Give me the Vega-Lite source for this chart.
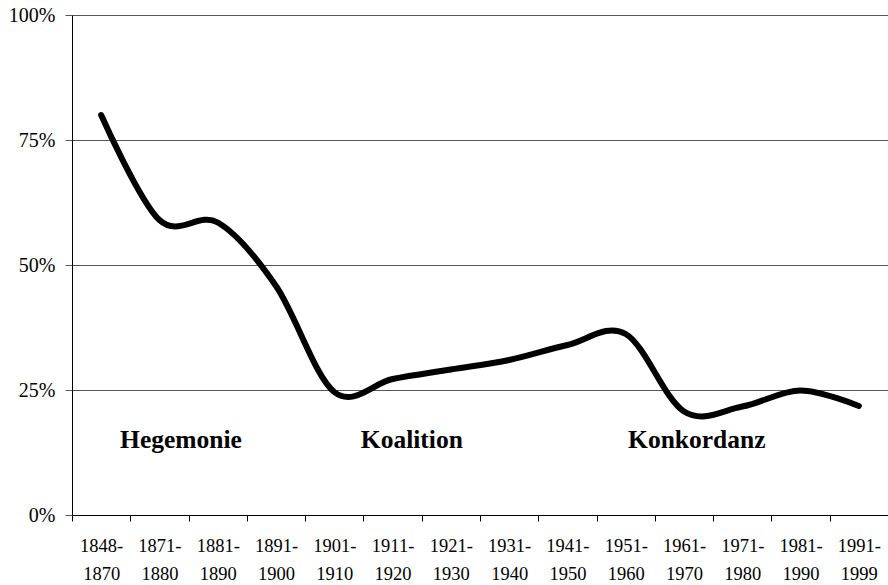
{
  "$schema": "https://vega.github.io/schema/vega-lite/v6.json",
  "width": 816,
  "height": 500,
  "autosize": {"type": "none"},
  "padding": {"left": 72, "top": 15, "right": 0, "bottom": 70},
  "background": "white",
  "config": {
    "font": "'Liberation Serif', 'Times New Roman', serif",
    "view": {"stroke": null}
  },
  "datasets": {
    "series": [
      {"period": "1848-1870", "share": 0.80},
      {"period": "1871-1880", "share": 0.59},
      {"period": "1881-1890", "share": 0.585},
      {"period": "1891-1900", "share": 0.458},
      {"period": "1901-1910", "share": 0.246},
      {"period": "1911-1920", "share": 0.272},
      {"period": "1921-1930", "share": 0.291},
      {"period": "1931-1940", "share": 0.31},
      {"period": "1941-1950", "share": 0.34},
      {"period": "1951-1960", "share": 0.362},
      {"period": "1961-1970", "share": 0.207},
      {"period": "1971-1980", "share": 0.217},
      {"period": "1981-1990", "share": 0.249},
      {"period": "1991-1999", "share": 0.218}
    ],
    "phases": [
      {"phase": "Hegemonie", "pos": 1.87, "level": 0.15},
      {"phase": "Koalition", "pos": 5.83, "level": 0.15},
      {"phase": "Konkordanz", "pos": 10.72, "level": 0.15}
    ]
  },
  "resolve": {"scale": {"x": "independent"}},
  "layer": [
    {
      "data": {"name": "series"},
      "mark": {"type": "line", "interpolate": "cardinal", "color": "black", "strokeWidth": 6, "strokeCap": "round", "strokeJoin": "round"},
      "encoding": {
        "x": {
          "field": "period", "type": "ordinal",
          "scale": {"type": "band", "paddingInner": 0, "paddingOuter": 0},
          "axis": {
            "title": null,
            "labelAngle": 0,
            "labelFont": "'Liberation Serif', 'Times New Roman', serif",
            "labelFontSize": 18.5,
            "labelColor": "black",
            "labelExpr": "[slice(datum.label, 0, 5), slice(datum.label, 5)]",
            "labelLineHeight": 28,
            "labelPadding": 15,
            "tickBand": "extent",
            "tickSize": 6,
            "tickColor": "black",
            "domainColor": "black",
            "domainWidth": 1,
            "grid": false
          }
        },
        "y": {
          "field": "share", "type": "quantitative",
          "scale": {"domain": [0, 1], "nice": false, "zero": true},
          "axis": {
            "title": null,
            "values": [0, 0.25, 0.5, 0.75, 1],
            "format": ".0%",
            "labelFont": "'Liberation Serif', 'Times New Roman', serif",
            "labelFontSize": 20,
            "labelColor": "black",
            "labelPadding": 10,
            "tickSize": 7,
            "tickColor": "#555",
            "domainColor": "black",
            "grid": true,
            "gridColor": "#555",
            "gridWidth": 1
          }
        }
      }
    },
    {
      "data": {"name": "phases"},
      "mark": {"type": "text", "font": "'Liberation Serif', 'Times New Roman', serif", "fontWeight": "bold", "fontSize": 25.5, "align": "center", "baseline": "middle", "color": "black"},
      "encoding": {
        "x": {"field": "pos", "type": "quantitative", "scale": {"domain": [0, 14], "nice": false, "zero": true}, "axis": null},
        "y": {"field": "level", "type": "quantitative"},
        "text": {"field": "phase"}
      }
    }
  ]
}
